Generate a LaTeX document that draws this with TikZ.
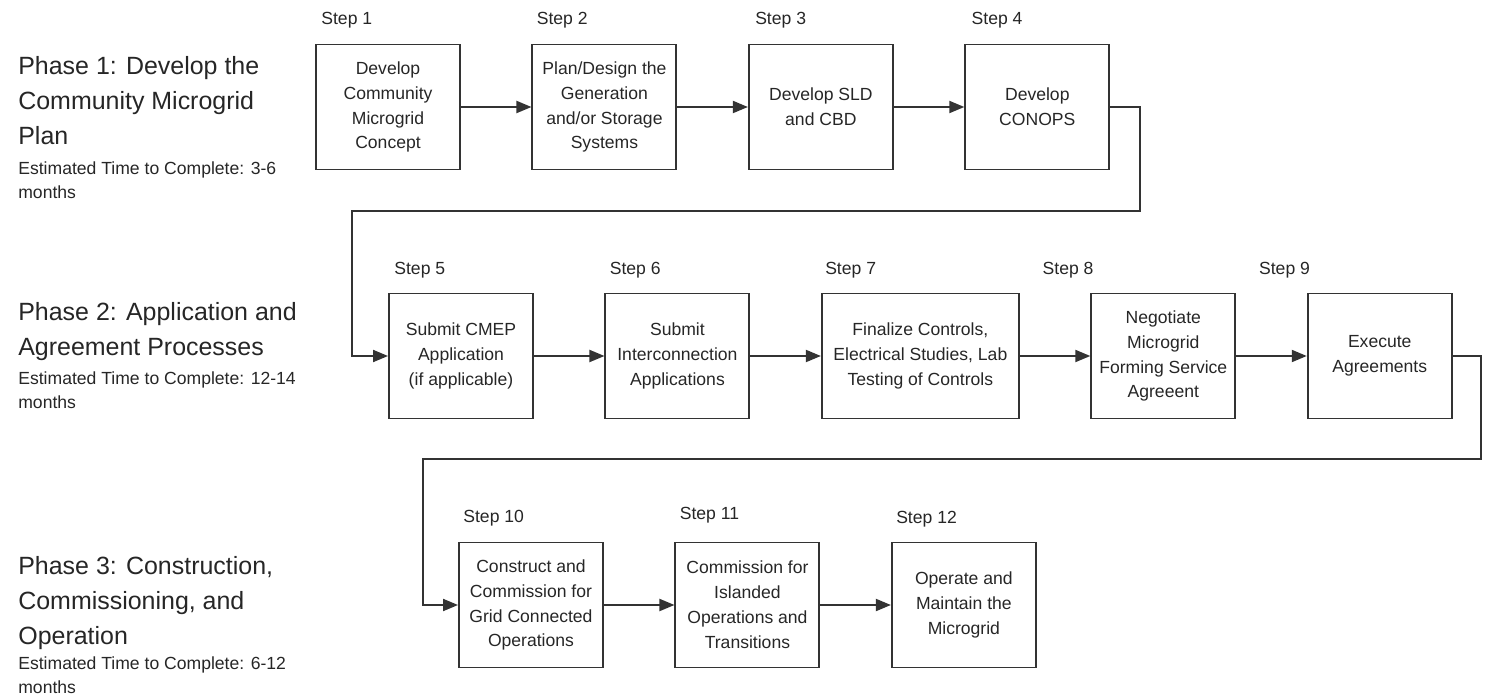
\documentclass[tikz,border=0pt]{standalone}
\usepackage{fontspec}
\setmainfont{Liberation Sans}
\usetikzlibrary{arrows.meta,calc,positioning}

\begin{document}
\begin{tikzpicture}[
  box/.style={draw=black!80, line width=1.1pt, minimum width=2.88cm, minimum height=2.5cm, inner sep=0pt, align=center, text=black!85, font=\fontsize{10}{14.2}\selectfont},
  widebox/.style={box, minimum width=3.94cm},
  steplbl/.style={anchor=west, inner sep=0pt, text=black!85, font=\fontsize{10}{12}\selectfont},
  phase/.style={anchor=north west, inner sep=0pt, align=left, text=black!85, font=\fontsize{14.2}{19.9}\selectfont},
  esttime/.style={anchor=north west, inner sep=0pt, align=left, text=black!85, font=\fontsize{10}{13.7}\selectfont},
  flow/.style={draw=black!80, line width=1.1pt, -{Triangle[length=0.3cm,width=0.24cm]}},
  node distance=1.41cm]
\useasboundingbox (0,0) rectangle (29.7,-13.92);
\node[phase] (ph1) at (0.36,-1.12) {Phase 1: Develop the\\Community Microgrid\\Plan};
\node[esttime] (t1) at (0.36,-3.22) {Estimated Time to Complete: 3-6\\months};
\node[phase] (ph2) at (0.36,-6.04) {Phase 2: Application and\\Agreement Processes};
\node[esttime] (t2) at (0.36,-7.43) {Estimated Time to Complete: 12-14\\months};
\node[phase] (ph3) at (0.36,-11.12) {Phase 3: Construction,\\Commissioning, and\\Operation};
\node[esttime] (t3) at (0.36,-13.12) {Estimated Time to Complete: 6-12\\months};

\node[box] (s1) at (7.76,-2.14) {Develop\\Community\\Microgrid\\Concept};
\node[box, right=of s1] (s2) {Plan/Design the\\Generation\\and/or Storage\\Systems};
\node[box, right=of s2] (s3) {Develop SLD\\and CBD};
\node[box, right=of s3] (s4) {Develop\\CONOPS};
\node[box] (s5) at (9.22,-7.12) {Submit CMEP\\Application\\(if applicable)};
\node[box, right=of s5] (s6) {Submit\\Interconnection\\Applications};
\node[widebox, right=of s6] (s7) {Finalize Controls,\\Electrical Studies, Lab\\Testing of Controls};
\node[box, right=of s7] (s8) {Negotiate\\Microgrid\\Forming Service\\Agreeent};
\node[box, right=of s8] (s9) {Execute\\Agreements};
\node[box] (s10) at (10.62,-12.1) {Construct and\\Commission for\\Grid Connected\\Operations};
\node[box, right=of s10] (s11) {Commission for\\Islanded\\Operations and\\Transitions};
\node[box, right=of s11] (s12) {Operate and\\Maintain the\\Microgrid};

\node[steplbl] (l1) at ($(s1.north west)+(0.12,0.46)$) {Step 1};
\node[steplbl] (l2) at ($(s2.north west)+(0.1,0.46)$) {Step 2};
\node[steplbl] (l3) at ($(s3.north west)+(0.14,0.46)$) {Step 3};
\node[steplbl] (l4) at ($(s4.north west)+(0.14,0.46)$) {Step 4};
\node[steplbl] (l5) at ($(s5.north west)+(0.12,0.44)$) {Step 5};
\node[steplbl] (l6) at ($(s6.north west)+(0.1,0.44)$) {Step 6};
\node[steplbl] (l7) at ($(s7.north west)+(0.08,0.44)$) {Step 7};
\node[steplbl] (l8) at ($(s8.north west)+(-0.96,0.44)$) {Step 8};
\node[steplbl] (l9) at ($(s9.north west)+(-0.96,0.44)$) {Step 9};
\node[steplbl] (l10) at ($(s10.north west)+(0.1,0.46)$) {Step 10};
\node[steplbl] (l11) at ($(s11.north west)+(0.1,0.52)$) {Step 11};
\node[steplbl] (l12) at ($(s12.north west)+(0.1,0.44)$) {Step 12};

\foreach \a/\b in {s1/s2,s2/s3,s3/s4,s5/s6,s6/s7,s7/s8,s8/s9,s10/s11,s11/s12}
  \draw[flow] (\a) -- (\b);
\coordinate (k1) at (22.8,-4.22);
\coordinate (k2) at (7.04,-4.22);
\coordinate (k3) at (29.62,-9.18);
\coordinate (k4) at (8.46,-9.18);
\draw[flow] (s4.east) -| (k1) -- (k2) |- (s5.west);
\draw[flow] (s9.east) -| (k3) -- (k4) |- (s10.west);
\end{tikzpicture}
\end{document}
